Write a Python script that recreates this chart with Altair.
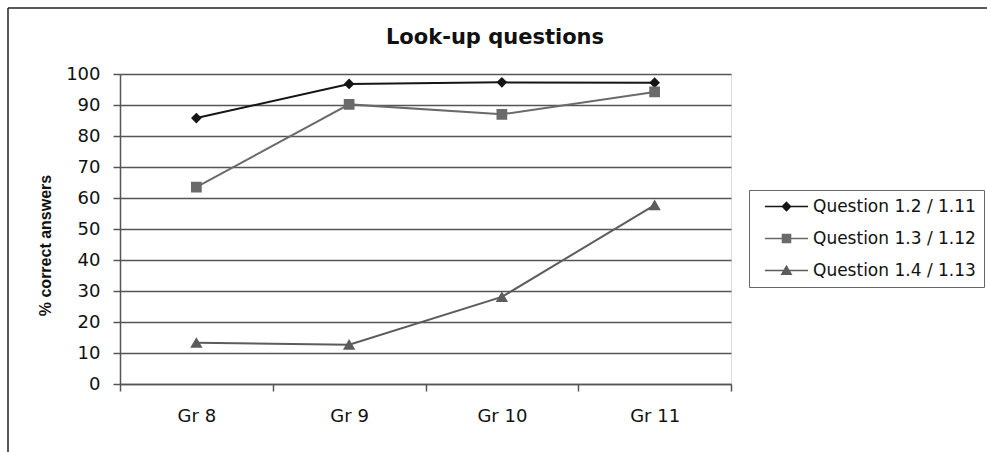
import altair as alt
import pandas as pd

# Grades and percent of correct answers per question
grades = ["Gr 8", "Gr 9", "Gr 10", "Gr 11"]
series = ["Question 1.2 / 1.11", "Question 1.3 / 1.12", "Question 1.4 / 1.13"]
q12 = [85.8, 96.8, 97.3, 97.2]
q13 = [63.5, 90.2, 87.0, 94.2]
q14 = [13.3, 12.7, 28.1, 57.7]

rows = []
for name, vals in zip(series, [q12, q13, q14]):
    for g, v in zip(grades, vals):
        rows.append({"grade": g, "question": name, "pct": v})
df = pd.DataFrame(rows)

colors = ["#151515", "#6a6a6a", "#5c5c5c"]
# marker paths with a horizontal stroke segment so legend entries read as line + marker
shapes = [
    "M-5.4,0H5.4M0,-1L1,0L0,1L-1,0Z",
    "M-5.4,0H5.4M-1,-1H1V1H-1Z",
    "M-5.4,0H5.4M0,-1.05L1.15,0.95H-1.15Z",
]

FONT = "DejaVu Sans"
W, H = 611, 310
LEFT, TOP = 120, 74

x = alt.X(
    "grade:N",
    sort=grades,
    scale=alt.Scale(type="band", domain=grades, paddingInner=0, paddingOuter=0),
    axis=alt.Axis(
        title=None, tickBand="extent", labelAngle=0, labelFontSize=18, labelFont=FONT,
        labelColor="#111", labelPadding=16, tickSize=7, tickColor="#555",
        domainColor="#555", domainWidth=1.5, tickWidth=1.5, grid=False,
    ),
)
y = alt.Y(
    "pct:Q",
    scale=alt.Scale(domain=[0, 100], nice=False),
    axis=alt.Axis(
        title="% correct answers", titleFont="Liberation Sans", titleFontSize=16,
        titleFontWeight="bold", titleColor="#111", titleX=45 - LEFT, titleY=245 - TOP,
        titleAngle=270, titleAlign="center", titleBaseline="middle",
        values=list(range(0, 101, 10)),
        labelFontSize=18, labelFont=FONT, labelColor="#111", labelPadding=13,
        tickSize=7, tickColor="#555", tickWidth=1.5, domainColor="#555", domainWidth=1.5,
        grid=True, gridColor="#555", gridWidth=1.3,
    ),
)

legend = alt.Legend(
    title=None, orient="none", legendX=629, legendY=116,
    labelFont=FONT, labelFontSize=17, labelColor="#111", labelLimit=300,
    symbolOffset=21, labelOffset=18,
    symbolSize=64, symbolStrokeWidth=1.6, rowPadding=14, padding=8, strokeColor="#666",
)

base = alt.Chart(df)

lines = base.mark_line(strokeWidth=2).encode(
    x=x, y=y,
    color=alt.Color("question:N", scale=alt.Scale(domain=series, range=colors), legend=legend),
    detail="question:N",
)

points = base.mark_point(filled=True, size=115, strokeWidth=0, opacity=1).encode(
    x=x, y=y,
    fill=alt.Fill("question:N", scale=alt.Scale(domain=series, range=colors), legend=legend),
    shape=alt.Shape("question:N", scale=alt.Scale(domain=series, range=shapes), legend=legend),
)

one = alt.Chart(pd.DataFrame({"k": [0]}))

# chart heading
heading = one.mark_text(
    text="Look-up questions", font=FONT, fontSize=21, fontWeight="bold", color="#111",
    align="center", baseline="alphabetic",
).encode(x=alt.value(495 - LEFT), y=alt.value(44 - TOP))

# outer frame around the figure
frame_top = one.mark_rule(color="#222", strokeWidth=1.5).encode(
    x=alt.value(8 - LEFT), x2=alt.value(987 - LEFT), y=alt.value(8 - TOP)
)
frame_left = one.mark_rule(color="#222", strokeWidth=1.5).encode(
    x=alt.value(8 - LEFT), y=alt.value(8 - TOP), y2=alt.value(452 - TOP)
)

chart = alt.layer(frame_top, frame_left, heading, lines, points).properties(
    width=W, height=H,
    autosize=alt.AutoSizeParams(type="none"),
    padding={"left": LEFT, "top": TOP, "right": 987 - LEFT - W, "bottom": 452 - TOP - H},
).configure_view(stroke="#777", strokeWidth=1.5).configure(background="white")

chart.save("out.html", embed_options={"renderer": "svg", "actions": False})
